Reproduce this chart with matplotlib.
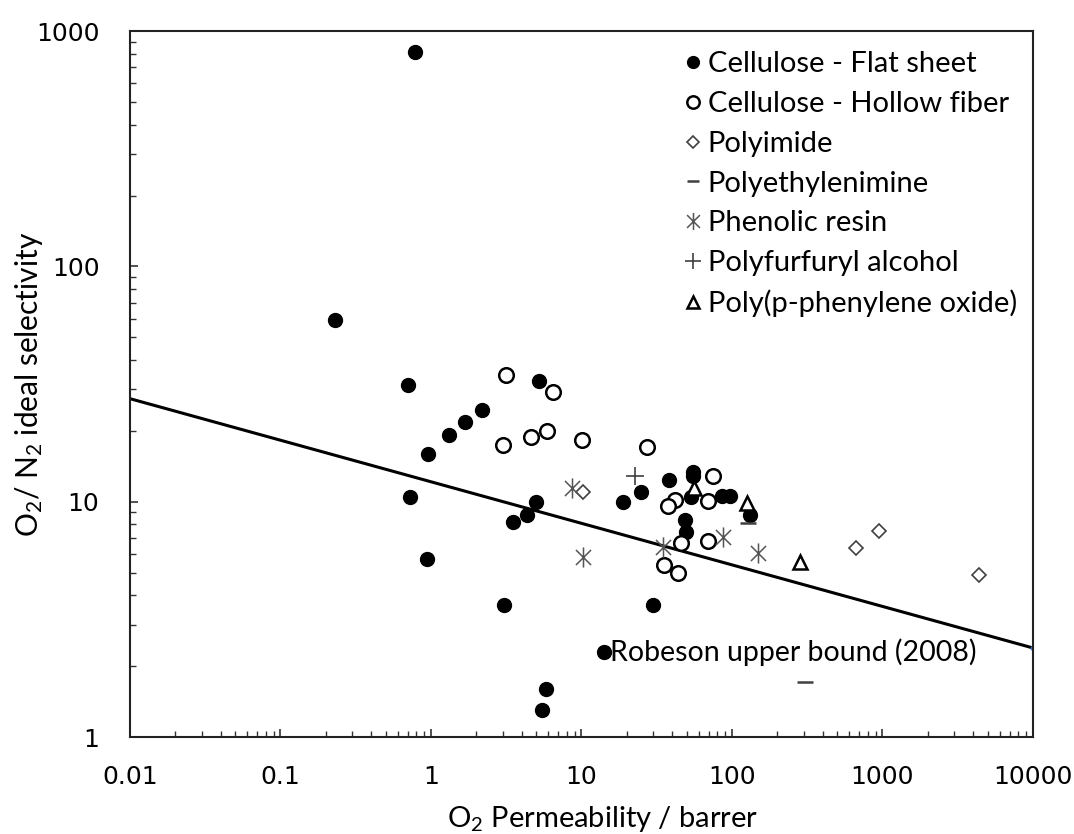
import matplotlib.pyplot as plt
from matplotlib.path import Path

plt.rcParams['font.family'] = ['Lato', 'DejaVu Sans']
plt.rcParams['mathtext.fontset'] = 'custom'
plt.rcParams['mathtext.rm'] = 'Lato'
plt.rcParams['mathtext.it'] = 'Lato:italic'

# O2 permeability (barrer) vs O2/N2 ideal selectivity
flat_x = [0.78, 0.23, 0.70, 0.73, 0.94, 0.955, 1.32, 1.69, 2.2, 3.07, 3.5, 4.35, 4.97,
          5.2, 5.5, 5.84, 14.1, 19.0, 24.9, 30, 38.1, 48.5, 49.3, 53.5, 55, 55, 86, 97, 132]
flat_y = [815, 59, 31.4, 10.5, 5.7, 15.9, 19.2, 21.8, 24.5, 3.64, 8.17, 8.75, 10.0,
          32.6, 1.30, 1.60, 2.30, 10.0, 10.96, 3.64, 12.4, 8.35, 7.45, 10.5, 13.4, 12.8, 10.6, 10.6, 8.77]

hollow_x = [3.14, 6.5, 3.0, 4.6, 5.93, 10.1, 27.4, 74.5, 41.6, 37.4, 69.7, 45.8, 69.7, 35.3, 44]
hollow_y = [34.5, 29.2, 17.4, 18.8, 19.9, 18.3, 17.1, 12.9, 10.2, 9.6, 10.1, 6.7, 6.8, 5.38, 4.99]

pi_x = [10.3, 667, 953, 4395]
pi_y = [11.0, 6.35, 7.48, 4.89]

pei_x = [127, 305]
pei_y = [8.13, 1.71]

phen_x = [8.7, 10.2, 35, 87.5, 148]
phen_y = [11.4, 5.83, 6.4, 7.1, 6.06]

pfa_x = [22.6]
pfa_y = [12.9]

ppo_x = [56, 125, 283]
ppo_y = [11.4, 9.9, 5.55]

# Robeson 2008 upper bound end points
rob_x = [0.01, 10000]
rob_y = [27.4, 2.39]

# six-armed asterisk like the Excel star marker
star = Path([(0, -1), (0, 1), (-0.75, -0.75), (0.75, 0.75), (-0.75, 0.75), (0.75, -0.75)],
            [Path.MOVETO, Path.LINETO] * 3)

fig = plt.figure(figsize=(10.74, 8.34), dpi=100)
ax = fig.add_axes([0.121, 0.1163, 0.8408, 0.8465])

ax.plot(rob_x, rob_y, color='black', lw=2.2, zorder=1)
ax.plot(rob_x[-1:], rob_y[-1:], 'o', color='#4472C4', ms=3, zorder=1)

ax.plot(flat_x, flat_y, 'o', color='black', ms=10, ls='none', label='Cellulose - Flat sheet')
ax.plot(hollow_x, hollow_y, 'o', mfc='white', mec='black', mew=1.8, ms=10.5, ls='none',
        label='Cellulose - Hollow fiber')
ax.plot(pi_x, pi_y, 'D', mfc='white', mec='#404040', mew=1.2, ms=7.5, ls='none', label='Polyimide')
ax.plot(pei_x, pei_y, '_', color='#404040', mew=1.8, ms=11, ls='none', label='Polyethylenimine')
ax.plot(phen_x, phen_y, marker=star, mfc='none', mec='#555555', mew=1.1, ms=14.5, ls='none',
        label='Phenolic resin')
ax.plot(pfa_x, pfa_y, '+', color='#404040', mew=1.2, ms=13, ls='none', label='Polyfurfuryl alcohol')
ax.plot(ppo_x, ppo_y, '^', mfc='white', mec='black', mew=1.8, ms=10, ls='none',
        label='Poly(p-phenylene oxide)')

ax.text(15.5, 2.30, 'Robeson upper bound (2008)', fontsize=20.5, va='center', ha='left')

ax.set_xscale('log')
ax.set_yscale('log')
ax.set_xlim(0.01, 10000)
ax.set_ylim(1, 1000)
ax.set_xticks([0.01, 0.1, 1, 10, 100, 1000, 10000])
ax.set_xticklabels(['0.01', '0.1', '1', '10', '100', '1000', '10000'])
ax.set_yticks([1, 10, 100, 1000])
ax.set_yticklabels(['1', '10', '100', '1000'])

ax.tick_params(which='both', direction='in', top=False, right=False, color='#333333')
ax.tick_params(which='major', length=6, width=1.2, labelsize=18, pad=20)
ax.tick_params(which='minor', length=4, width=1.0)
ax.tick_params(axis='y', which='major', pad=22)
for lab in ax.get_xticklabels() + ax.get_yticklabels():
    lab.set_family('DejaVu Sans')
for sp in ax.spines.values():
    sp.set_linewidth(1.5)
    sp.set_color('#222222')

ax.set_xlabel('O$_2$ Permeability / barrer', fontsize=21)
ax.xaxis.set_label_coords(0.523, -0.095)
ax.set_ylabel('O$_2$/ N$_2$ ideal selectivity', fontsize=21.5)
ax.yaxis.set_label_coords(-0.094, 0.5)

ax.legend(loc='upper right', bbox_to_anchor=(1.005, 1.0), frameon=False, fontsize=21,
          handlelength=0.6, handletextpad=0.2, labelspacing=0.47, markerscale=0.85,
          borderaxespad=0.3)

fig.savefig('out.png', dpi=100)
